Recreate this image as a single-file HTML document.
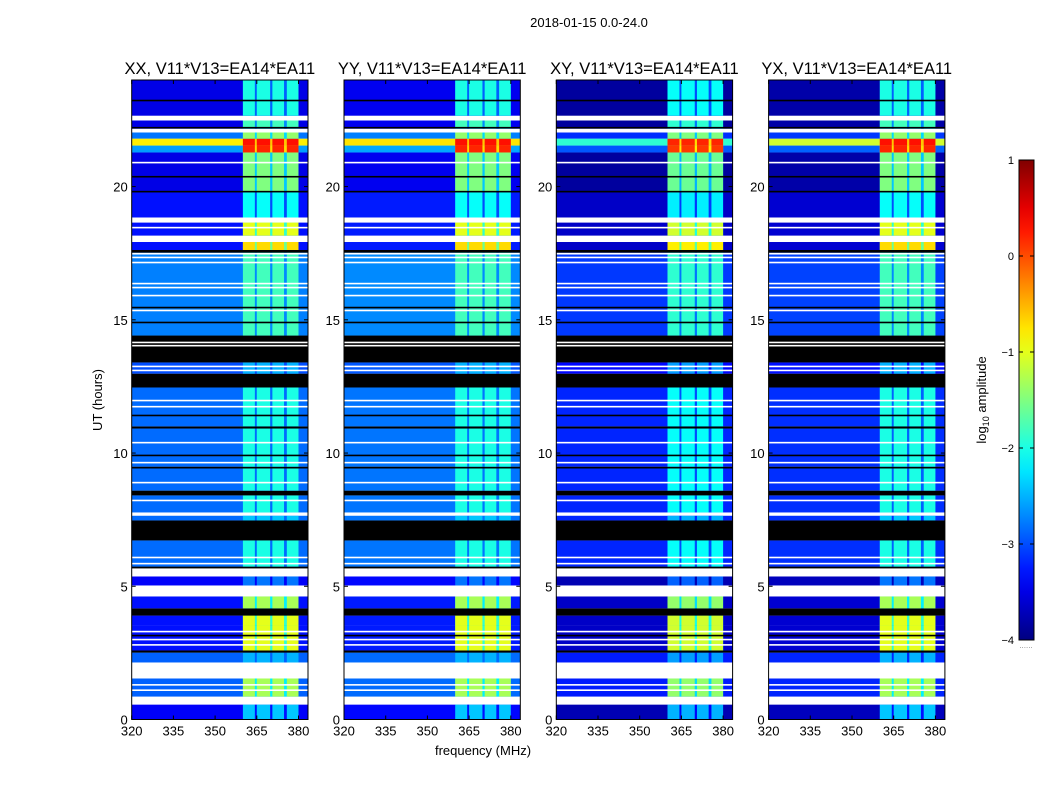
<!DOCTYPE html>
<html><head><meta charset="utf-8">
<style>
html,body{margin:0;padding:0;background:#fff;}
svg{display:block;font-family:"Liberation Sans",sans-serif;}
</style></head>
<body>
<svg id="fig" width="1050" height="800" viewBox="0 0 1050 800" xmlns="http://www.w3.org/2000/svg">
<rect width="1050" height="800" fill="#fff"/>
<text x="589" y="27" font-size="13" text-anchor="middle">2018-01-15 0.0-24.0</text>
<text transform="translate(102,400) rotate(-90)" font-size="13" text-anchor="middle">UT (hours)</text>
<text x="483" y="755" font-size="13" text-anchor="middle">frequency (MHz)</text>
<g id="panels"></g>
<g id="cbar"></g>
</svg>
<script>
// ---- data ----
const panelTitles = ["XX, V11*V13=EA14*EA11","YY, V11*V13=EA14*EA11","XY, V11*V13=EA14*EA11","YX, V11*V13=EA14*EA11"];
const panelBgOffset = [0, 0.05, -0.35, -0.3];
const panelRfiOffset = [0, 0, -0.1, 0];
// time segments (hours): start, end, kind (d=data,w=flagged white,k=no data black), background log amp, RFI log amp
const segStart = [0,0.56,0.86,1.54,2.14,2.51,2.59,3.53,3.9,4.17,4.62,5.03,5.37,5.67,5.74,6.72,7.47,7.65,7.77,8.41,8.59,9.42,9.49,10.92,11.0,12.46,12.98,13.4,14.41,17.52,17.62,17.92,18.16,18.65,18.84,19.8,21.28,21.54,21.8,22.03,22.17,22.48,22.66];
const segEnd   = [0.56,0.86,1.54,2.14,2.51,2.59,3.53,3.9,4.17,4.62,5.03,5.37,5.67,5.74,6.72,7.47,7.65,7.77,8.41,8.59,9.42,9.49,10.92,11.0,12.46,12.98,13.4,14.41,17.52,17.62,17.92,18.16,18.65,18.84,19.8,21.28,21.54,21.8,22.03,22.17,22.48,22.66,24];
const segKind  = ["d","w","d","w","d","k","d","d","k","d","w","d","w","k","d","k","d","w","d","k","d","k","d","k","d","k","d","k","d","k","d","w","d","w","d","d","d","d","d","w","d","w","d"];
const segBg    = [-3.4,0,-2.9,0,-2.9,0,-3.3,-3.3,0,-3.3,0,-3.4,0,0,-2.85,0,-2.85,0,-2.85,0,-2.85,0,-2.85,0,-2.85,0,-3.0,0,-2.75,0,-3.3,0,-3.3,0,-3.3,-3.5,-2.6,-0.8,-2.8,0,-3.5,0,-3.5];
const segRfi   = [-2.4,0,-1.3,0,-2.5,0,-1.0,-1.0,0,-1.3,0,-2.8,0,0,-2.0,0,-2.4,0,-2.0,0,-2.0,0,-2.0,0,-2.0,0,-2.5,0,-1.8,0,-0.7,0,-1.0,0,-2.1,-1.5,0.2,0.3,-1.4,0,-1.8,0,-2.0];
// thin flag lines (hours) and their type
const lineH    = [1.1,1.3,2.8,3.0,3.15,3.3,5.85,6.08,8.22,8.89,9.64,9.91,10.39,11.41,11.74,11.97,13.1,13.25,14.03,14.15,14.9,15.35,15.46,15.91,16.21,16.36,17.15,17.34,17.48,18.46,19.81,20.37,20.9,22.21,23.23];
const lineKind = ["w","w","w","w","k","w","w","w","w","w","w","k","w","k","w","w","w","w","w","w","k","w","k","w","w","w","w","w","w","w","k","k","w","k","k"];
// RFI sub-bands (MHz)
const rfiLo = [360,365,370.6,375.8];
const rfiHi = [364.3,369.8,374.8,380];
const xTicks = [320,335,350,365,380];
const yTicks = [0,5,10,15,20];
const cbTicks = [1,0,-1,-2,-3,-4];

// ---- helpers ----
const NS="http://www.w3.org/2000/svg";
function jet(v){
  let t=Math.max(0,Math.min(1,(v+4)/5));
  const f=x=>Math.max(0,Math.min(1,x));
  const r=f(1.5-Math.abs(4*t-3)), g=f(1.5-Math.abs(4*t-2)), b=f(1.5-Math.abs(4*t-1));
  return `rgb(${Math.round(r*255)},${Math.round(g*255)},${Math.round(b*255)})`;
}
function mk(tag,attrs,parent){const e=document.createElementNS(NS,tag);for(const k in attrs)e.setAttribute(k,attrs[k]);parent.appendChild(e);return e;}
const panelX0=[131.7,344,556.3,768.6], PW=176.3, Y0=80, Y1=719.5;
const yS=h=>Y1-h*(Y1-Y0)/24;
const panels=document.getElementById('panels');
panelTitles.forEach((title,p)=>{
  const x0=panelX0[p];
  const xS=f=>x0+(f-320)*2.78;
  const g=mk('g',{},panels);
  
  
  const hm=mk('g',{},g);
  
  
  for(let i=0;i<segStart.length;i++){
    const ya=yS(segEnd[i]), yb=yS(segStart[i]);
    let fill = segKind[i]==='w'?'#fff':segKind[i]==='k'?'#000':null;
    if(fill){
      const r=mk('rect',{x:x0,y:ya,width:PW,height:yb-ya,fill:fill},hm);
      
      
      continue;
    }
    let bg=segBg[i]+panelBgOffset[p];
    if(p===2 && segBg[i]>-1) bg=-1.9;
    const r=mk('rect',{x:x0,y:ya,width:PW,height:yb-ya,fill:jet(bg)},hm);
    
    
    const gapLevel=Math.max(bg,segRfi[i]+panelRfiOffset[p]-0.9);
    const gr=mk('rect',{x:xS(rfiLo[0]),y:ya,width:xS(rfiHi[3])-xS(rfiLo[0]),height:yb-ya,fill:jet(gapLevel)},hm);
    
    
    for(let j=0;j<rfiLo.length;j++){
      const c=mk('rect',{x:xS(rfiLo[j]),y:ya,width:xS(rfiHi[j])-xS(rfiLo[j]),height:yb-ya,fill:jet(segRfi[i]+panelRfiOffset[p])},hm);
      
      
    }
  }
  for(let i=0;i<lineH.length;i++){
    const l=mk('rect',{x:x0,y:yS(lineH[i])-0.8,width:PW,height:1.6,fill:lineKind[i]==='w'?'#fff':'#000'},hm);
    
    
  }
  const fr=mk('rect',{x:x0,y:Y0,width:PW,height:Y1-Y0,fill:'none',stroke:'#000','stroke-width':1},g);
  
  
  const t=mk('text',{x:x0+PW/2,y:74,'font-size':16.5,'text-anchor':'middle'},g);
  t.textContent=title;
  
  
  xTicks.forEach(v=>{
    const x=xS(v);
    mk('line',{x1:x,x2:x,y1:Y1,y2:Y1-4,stroke:'#000'},g);
    mk('line',{x1:x,x2:x,y1:Y0,y2:Y0+4,stroke:'#000'},g);
    const tl=mk('text',{x:x,y:Y1+16,'font-size':13,'text-anchor':'middle'},g);
    tl.textContent=v;
    
    
  });
  yTicks.forEach(v=>{
    const y=yS(v);
    mk('line',{x1:x0,x2:x0+4,y1:y,y2:y,stroke:'#000'},g);
    mk('line',{x1:x0+PW,x2:x0+PW-4,y1:y,y2:y,stroke:'#000'},g);
    const tl=mk('text',{x:x0-4,y:y+5,'font-size':13,'text-anchor':'end'},g);
    tl.textContent=v;
    
    
  });
});
// colorbar
const cb=document.getElementById('cbar');


const CX=1019,CW=15,CY0=160,CY1=640;
const cbS=v=>CY0+(1-v)*(CY1-CY0)/5;
const defs=mk('defs',{},cb);
const lg=mk('linearGradient',{id:'jetg',x1:0,y1:1,x2:0,y2:0},defs);
for(let i=0;i<=20;i++){mk('stop',{offset:i/20,'stop-color':jet(-4+5*i/20)},lg);}
const cr=mk('rect',{x:CX,y:CY0,width:CW,height:CY1-CY0,fill:'url(#jetg)',stroke:'#000','stroke-width':1},cb);


cbTicks.forEach(v=>{
  const y=cbS(v);
  mk('line',{x1:CX,x2:CX+4,y1:y,y2:y,stroke:'#000'},cb);
  mk('line',{x1:CX+CW,x2:CX+CW-4,y1:y,y2:y,stroke:'#000'},cb);
  const tl=mk('text',{x:1014,y:y+4,'font-size':11,'text-anchor':'end'},cb);
  tl.textContent=v<0?'\u2212'+(-v):String(v);
  
  
});
const cl=mk('text',{transform:'translate(986,400) rotate(-90)','font-size':13,'text-anchor':'middle'},cb);
cl.innerHTML='log<tspan font-size="9" dy="3">10</tspan><tspan dy="-3"> amplitude</tspan>';


const dots=mk('text',{x:1026,y:648,'font-size':8,'text-anchor':'middle',fill:'#888'},cb);
dots.textContent='......';


</script>
</body></html>
